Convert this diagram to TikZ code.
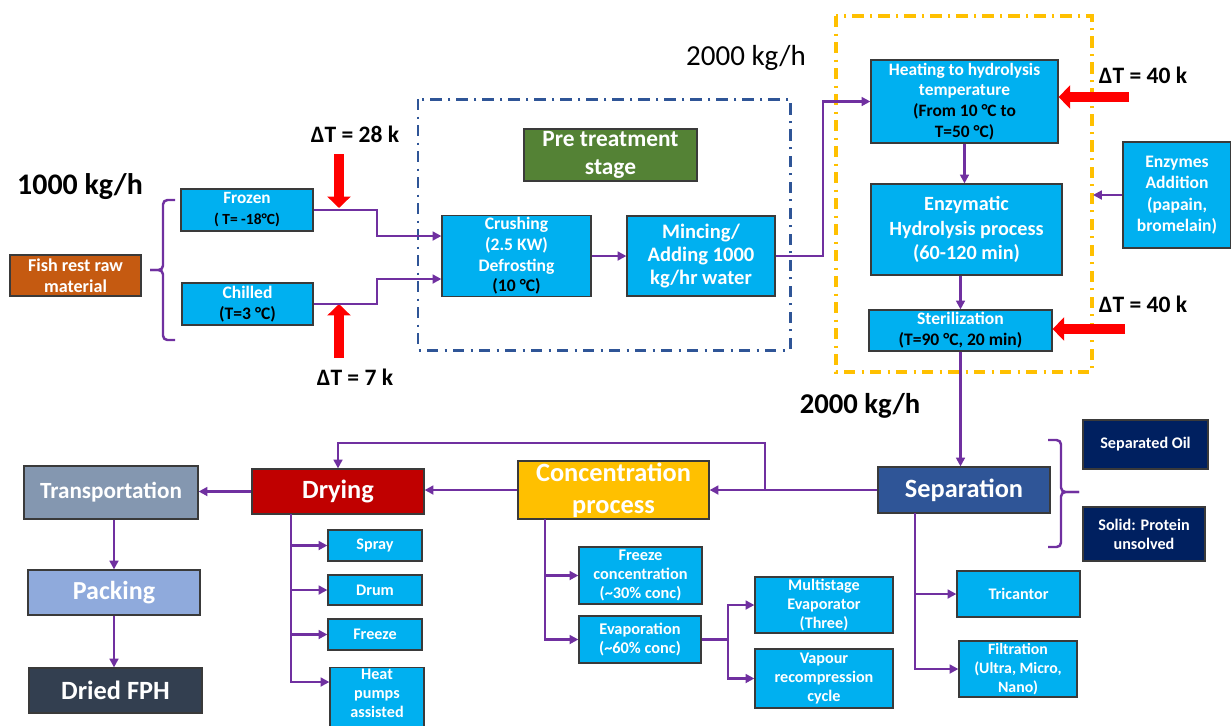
\documentclass[tikz,border=0pt]{standalone}
\usepackage{fontspec}
\setmainfont{Carlito}
\usetikzlibrary{arrows.meta}
\definecolor{boxblue}{HTML}{00B0F0}
\definecolor{fishc}{HTML}{C55A11}
\definecolor{prec}{HTML}{548235}
\definecolor{edgec}{HTML}{3A3A3A}
\definecolor{sepc}{HTML}{2F5597}
\definecolor{navyc}{HTML}{002060}
\definecolor{concc}{HTML}{FFC000}
\definecolor{dryc}{HTML}{C00000}
\definecolor{transc}{HTML}{8497B0}
\definecolor{packc}{HTML}{8FAADC}
\definecolor{fphc}{HTML}{333F50}
\definecolor{flowc}{HTML}{7030A0}
\definecolor{dashblue}{HTML}{2F5597}
\definecolor{dashorange}{HTML}{FFC000}
\definecolor{redc}{HTML}{FF0000}
\begin{document}
\begin{tikzpicture}[x=0.02cm,y=-0.02cm,
  box/.style={draw=edgec, line width=0.7pt, text=white, align=center, inner sep=1pt},
  bluebox/.style={box, fill=boxblue},
  sz/.style 2 args={minimum width=#1*0.02cm, minimum height=#2*0.02cm},
  fs/.style 2 args={font=\bfseries\fontsize{#1}{#2}\selectfont},
  flow/.style={draw=flowc, line width=1.4pt, -{Triangle[length=5pt,width=5pt]}},
  flowline/.style={draw=flowc, line width=1.4pt},
  brk/.style={draw=flowc, line width=1.4pt, rounded corners=2.5pt},
  redarr/.style={draw=redc, line width=5.8pt, -{Triangle[length=6.5pt,width=13pt]}},
  lbl/.style={font=\bfseries\fontsize{13.4}{16}\selectfont, text=black, inner sep=0pt},
  dashdotbox/.style={line width=1.7pt, dash pattern=on 6.5pt off 3.5pt on 1.3pt off 3.5pt}
]
\useasboundingbox[fill=white] (0,0) rectangle (1231,725);

% dashed stage boxes
\draw[dashdotbox, draw=dashblue] (418,99) rectangle (790,350);
\draw[dashdotbox, draw=dashorange, line width=2pt] (836,16) rectangle (1092,372);

% nodes
\node[box, fill=fishc, sz={131}{41}, fs={10.3}{12}] (fish) at (75.5,275.5) {Fish rest raw\\material};
\node[bluebox, sz={132}{42}, fs={9.8}{12}] (frozen) at (247,210) {Frozen\\\textcolor{black}{\fontsize{8.8}{9}\selectfont( T= -18°C)}};
\node[bluebox, sz={131}{42}, fs={10}{12}] (chilled) at (247.5,304) {Chilled\\\textcolor{black}{(T=3 °C)}};
\node[box, fill=prec, sz={173}{52}, fs={13.3}{16}] (pre) at (610.5,155) {Pre treatment\\stage};
\node[bluebox, sz={149}{80}, fs={10}{11.8}] (crush) at (516.5,256) {Crushing\\(2.5 KW)\\Defrosting\\\textcolor{black}{(10 °C)}};
\node[bluebox, sz={148}{80}, fs={11.7}{13}] (mince) at (701,256) {Mincing/\\Adding 1000\\kg/hr water};
\node[bluebox, sz={187}{83}, fs={9.9}{11.8}] (heat) at (964.5,101.5) {Heating to hydrolysis\\temperature\\\textcolor{black}{(From 10 °C to}\\\textcolor{black}{T=50 °C)}};
\node[bluebox, sz={191}{91}, fs={11.5}{13.9}] (enz) at (966.5,229.5) {Enzymatic\\Hydrolysis process\\(60-120 min)};
\node[bluebox, sz={183}{41}, fs={10}{11.8}] (ster) at (960.5,330.5) {Sterilization\\\textcolor{black}{(T=90 °C, 20 min)}};
\node[bluebox, sz={108}{106}, fs={10}{12.2}] (enzadd) at (1177,195) {Enzymes\\Addition\\(papain,\\bromelain)};
\node[box, fill=sepc, sz={172}{46}, fs={15}{16}] (sep) at (964,490) {Separation};
\node[box, fill=navyc, sz={125}{49}, fs={9.2}{10.8}] (oil) at (1145.5,444.5) {Separated Oil};
\node[box, fill=navyc, sz={122}{54}, fs={9.2}{10.8}] (solid) at (1144,534) {Solid: Protein\\unsolved};
\node[box, fill=concc, sz={191}{58}, fs={15}{18}] (conc) at (613.5,490) {Concentration\\process};
\node[box, fill=dryc, sz={172}{45}, fs={15}{16}] (dry) at (338,491.5) {Drying};
\node[box, fill=transc, sz={174}{53}, fs={13.2}{15}] (trans) at (111,492.5) {Transportation};
\node[box, fill=packc, sz={172}{45}, fs={14.8}{16}] (pack) at (114,592.5) {Packing};
\node[box, fill=fphc, sz={173}{45}, fs={15}{16}] (fph) at (115.5,690.5) {Dried FPH};
\node[bluebox, sz={94}{31}, fs={9.2}{10.8}] (spray) at (375,545.5) {Spray};
\node[bluebox, sz={94}{30}, fs={9.2}{10.8}] (drum) at (375,590) {Drum};
\node[bluebox, sz={94}{31}, fs={9.2}{10.8}] (freeze) at (375,634.5) {Freeze};
\node[bluebox, sz={94}{62}, fs={9.2}{10.8}, anchor=north] (heatp) at (377,667) {Heat\\pumps\\assisted\\[4pt]};
\node[bluebox, sz={123}{57}, fs={9.3}{10.8}] (fconc) at (640.5,575.5) {Freeze\\concentration\\(\textasciitilde30\% conc)};
\node[bluebox, sz={122}{47}, fs={9.3}{11.2}] (evap) at (640,639.5) {Evaporation\\(\textasciitilde60\% conc)};
\node[bluebox, sz={138}{56}, fs={9.2}{10.8}] (multi) at (824,605) {Multistage\\Evaporator\\(Three)};
\node[bluebox, sz={138}{59}, fs={9.2}{10.8}] (vap) at (824,678.5) {Vapour\\recompression\\cycle};
\node[bluebox, sz={123}{46}, fs={9.2}{10.8}] (tric) at (1018.5,594) {Tricantor};
\node[bluebox, sz={118}{56}, fs={9}{10.8}] (filt) at (1018,669) {Filtration\\(Ultra, Micro,\\Nano)};

% labels
\node[lbl, font=\bfseries\fontsize{17}{19}\selectfont] (kg1) at (80,187) {1000 kg/h};
\node[lbl] (dt28) at (355,134) {ΔT = 28 k};
\node[lbl] (dt7) at (355,377) {ΔT = 7 k};
\node[lbl, font=\fontsize{16.5}{19}\selectfont] (kg2a) at (746,58) {2000 kg/h};
\node[lbl] (dt40a) at (1143,75) {ΔT = 40 k};
\node[lbl] (dt40b) at (1143,304) {ΔT = 40 k};
\node[lbl, font=\bfseries\fontsize{16.3}{19}\selectfont] (kg2b) at (860,406) {2000 kg/h};

% helper coordinates
\coordinate (r1s) at (339,154);
\coordinate (r1e) at (339,208);
\coordinate (r2s) at (339,358);
\coordinate (r2e) at (339,304);
\coordinate (r3s) at (1129,97);
\coordinate (r4s) at (1125,329);
\coordinate (enzin) at (1093,195);
\coordinate (dtrunk) at (291,514);
\coordinate (ctrunk) at (545,519);
\coordinate (etrunk) at (728,639.5);
\coordinate (strunk) at (915,513);
\coordinate (loop) at (765,490);

% red heat arrows
\draw[redarr] (r1s) -- (r1e);
\draw[redarr] (r2s) -- (r2e);
\draw[redarr] (r3s) -- (r3s -| heat.east);
\draw[redarr] (r4s) -- (r4s -| ster.east);

% brackets
\draw[brk] (175,200) -- (163,200) -- (163,270) -- (150,270);
\draw[brk] (150,270) -- (163,270) -- (163,340) -- (175,340);
\draw[brk] (1048,440) -- (1061,440) -- (1061,492) -- (1079,492);
\draw[brk] (1079,492) -- (1061,492) -- (1061,547) -- (1048,547);

% flows
\draw[flow] (frozen.east) -- (377,210) -- (377,236) -- (crush.west |- 0,236);
\draw[flow] (chilled.east) -- (377,304) -- (377,279) -- (crush.west |- 0,279);
\draw[flow] (crush) -- (mince);
\draw[flow] (mince.east) -- (823,256) |- (heat.west);
\draw[flow] (heat.south) -- (heat.south |- enz.north);
\draw[flow] (ster.north |- enz.south) -- (ster.north);
\draw[flow] (enzadd.west) -- (enzin);
\draw[flow] (ster.south) -- (ster.south |- sep.north);
\draw[flow] (sep.west) -- (conc.east |- sep.west);
\draw[flow] (loop) -- (765,443) -| (dry.north);
\draw[flow] (conc.west) -- (dry.east |- conc.west);
\draw[flow] (dry.west) -- (trans.east |- dry.west);
\draw[flow] (pack.north |- trans.south) -- (pack.north);
\draw[flow] (pack.south) -- (pack.south |- fph.north);
\draw[flow] (dtrunk) |- (spray.west);
\draw[flow] (dtrunk) |- (drum.west);
\draw[flow] (dtrunk) |- (freeze.west);
\draw[flow] (dtrunk) |- (heatp.west |- 0,682);
\draw[flow] (ctrunk) |- (fconc.west);
\draw[flow] (ctrunk) |- (evap.west);
\draw[flowline] (evap.east) -- (etrunk);
\draw[flow] (etrunk) |- (multi.west);
\draw[flow] (etrunk) |- (vap.west);
\draw[flow] (strunk) |- (tric.west);
\draw[flow] (strunk) |- (filt.west);
\end{tikzpicture}
\end{document}
